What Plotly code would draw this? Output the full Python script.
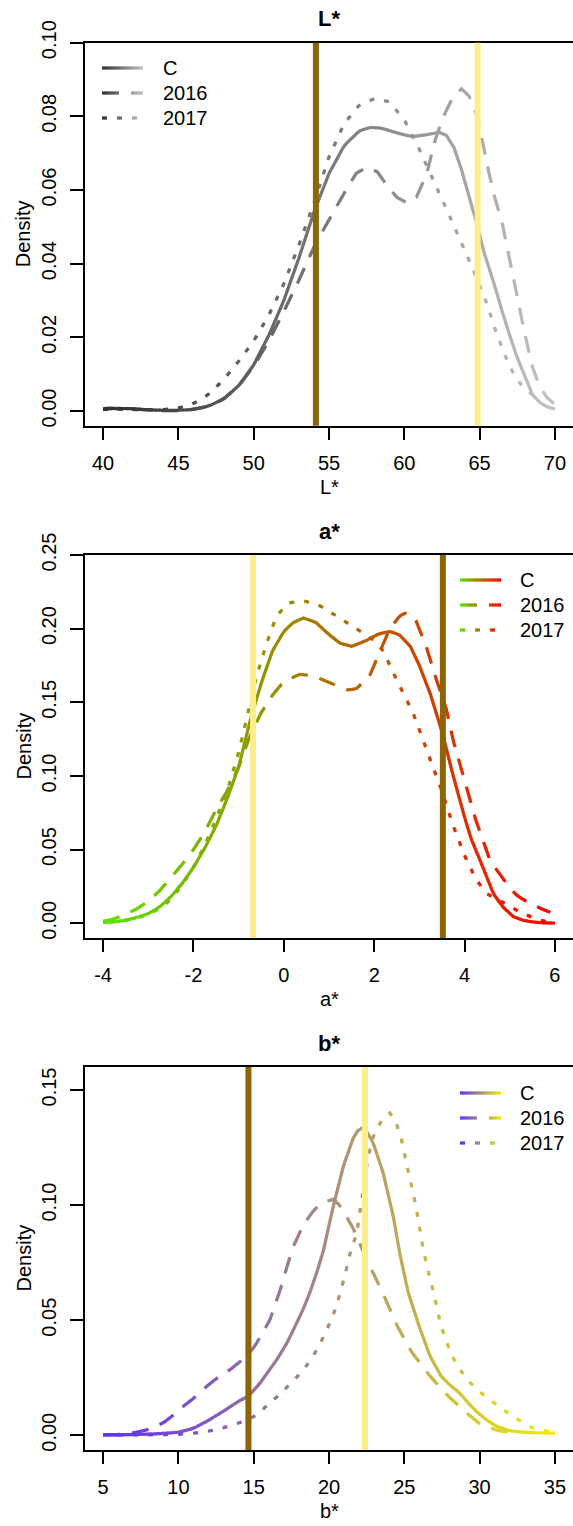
import numpy as np
import plotly.graph_objects as go

W, H = 573, 1526

# ------------------------------------------------------------------
# Data (density curves)
# ------------------------------------------------------------------
SERIES = ["C", "2016", "2017"]

# L* panel
L_C_x = [40, 41, 42, 43, 44, 45, 46, 47, 48, 49, 50, 51, 52, 53, 54, 55, 56,
         57, 57.7, 58.5, 59.5, 60.5, 61.5, 62.3, 62.8, 63.3, 63.8, 64.3, 64.8, 65.3,
         66, 66.5, 67, 67.5, 68, 68.5, 69, 69.5, 70]
L_C_y = [0.0005, 0.0007, 0.0006, 0.0003, 0.0002, 0.0002, 0.0004, 0.0013, 0.0033, 0.0068,
         0.0125, 0.0205, 0.030, 0.0415, 0.054, 0.0645, 0.0720,
         0.0760, 0.0770, 0.0768, 0.0755, 0.0745, 0.0750, 0.0757, 0.0748, 0.0715, 0.0655,
         0.0582, 0.0510, 0.0430, 0.0340, 0.0270, 0.0205, 0.0145, 0.0095, 0.0045, 0.0023,
         0.0011, 0.0005]
L_2016_x = [40, 40.5, 41, 42, 43, 44, 45, 46, 47, 48, 49, 50, 51, 52, 53, 54,
            54.6, 55.5, 56.2, 56.8, 57.5, 58.2, 58.8, 59.5, 60.2, 60.8, 61.5, 62, 62.6,
            63.2, 63.8, 64.3, 64.8, 65.2, 65.6, 66, 66.5, 67, 67.5, 68, 68.5, 69, 69.5, 70]
L_2016_y = [0.0006, 0.0008, 0.0006, 0.0005, 0.0003, 0.0001, 0.0001, 0.0005, 0.0013, 0.0032,
            0.0068, 0.0122, 0.019, 0.027, 0.0355, 0.0445,
            0.049, 0.0555, 0.0605, 0.0645, 0.0662, 0.0650, 0.0615, 0.0580, 0.0565, 0.0580,
            0.0645, 0.0730, 0.0800, 0.0850, 0.0875, 0.0855, 0.0805, 0.0730, 0.0650, 0.0580,
            0.0510, 0.0410, 0.0310, 0.0210, 0.0120, 0.0065, 0.0035, 0.0018]
L_2017_x = [40, 41, 42, 43, 44, 45, 46, 47, 48, 49, 50, 51, 52, 53, 54, 55, 56, 57, 58, 59,
            60, 61, 62, 63, 63.7, 64.4, 65, 65.5, 66, 66.5, 67, 67.5, 68, 68.5, 69]
L_2017_y = [0.0004, 0.0005, 0.0004, 0.0003, 0.0004, 0.0008, 0.002, 0.0045, 0.0085, 0.0135,
            0.019, 0.026, 0.0345, 0.045, 0.0565, 0.069, 0.078, 0.083, 0.0848, 0.084,
            0.079, 0.071, 0.062, 0.053, 0.0465, 0.040, 0.034, 0.029, 0.0225, 0.017, 0.012,
            0.0085, 0.006, 0.0045, 0.003]

# a* panel
a_C_x = [-4, -3.75, -3.5, -3.25, -3, -2.75, -2.5, -2.25, -2, -1.75, -1.5, -1.25, -1, -0.75,
         -0.5, -0.25, 0, 0.2, 0.43, 0.7, 1.0, 1.25, 1.5, 1.8, 2.1, 2.35, 2.55, 2.8, 3.0,
         3.25, 3.5, 3.75, 4.0, 4.15, 4.34, 4.64, 4.85, 5.08, 5.3, 5.52, 5.75, 6.0]
a_C_y = [0.0005, 0.001, 0.002, 0.004, 0.0065, 0.011, 0.018, 0.027, 0.038, 0.051, 0.066,
         0.085, 0.106, 0.137, 0.163, 0.185, 0.198, 0.204, 0.2072, 0.2045, 0.196, 0.190,
         0.188, 0.1915, 0.1965, 0.198, 0.196, 0.188, 0.175, 0.155, 0.130, 0.100, 0.072,
         0.057, 0.043, 0.020, 0.011, 0.0045, 0.002, 0.0008, 0.0003, 0.0001]
a_2016_x = [-4, -3.75, -3.5, -3.25, -3, -2.75, -2.5, -2.25, -2, -1.75, -1.5, -1.25, -1,
            -0.75, -0.5, -0.25, 0, 0.35, 0.65, 1.0, 1.4, 1.6, 1.9, 2.12, 2.34, 2.56, 2.71,
            2.93, 3.15, 3.37, 3.6, 3.75, 4.0, 4.25, 4.56, 4.74, 4.93, 5.15, 5.45, 5.78, 5.9]
a_2016_y = [0.0014, 0.003, 0.0062, 0.0098, 0.015, 0.022, 0.031, 0.040, 0.050, 0.062, 0.077,
            0.090, 0.106, 0.127, 0.143, 0.155, 0.164, 0.169, 0.168, 0.1635, 0.1585, 0.159,
            0.168, 0.184, 0.1995, 0.2085, 0.211, 0.205, 0.188, 0.166, 0.145, 0.124, 0.097,
            0.070, 0.043, 0.035, 0.027, 0.019, 0.0134, 0.0087, 0.0075]
a_2017_x = [-3.85, -3.5, -3.25, -3, -2.75, -2.5, -2.25, -2, -1.75, -1.5, -1.25, -1, -0.8,
            -0.6, -0.38, -0.16, 0.1, 0.43, 0.8, 1.09, 1.39, 1.68, 1.97, 2.2, 2.42, 2.64,
            2.86, 3.08, 3.3, 3.52, 3.75, 4.0, 4.25, 4.5, 4.75, 4.93, 5.2, 5.5, 5.75, 5.95]
a_2017_y = [0.0007, 0.002, 0.0035, 0.006, 0.010, 0.016, 0.026, 0.038, 0.053, 0.071, 0.090,
            0.116, 0.142, 0.168, 0.190, 0.2087, 0.2174, 0.219, 0.2156, 0.210, 0.2042,
            0.1985, 0.1928, 0.1849, 0.1701, 0.1565, 0.1428, 0.1246, 0.106, 0.088, 0.066,
            0.046, 0.030, 0.020, 0.0155, 0.013, 0.008, 0.004, 0.0015, 0.0007]

# b* panel
b_C_x = [5, 6, 7, 8, 9, 10, 11, 12, 13, 14, 14.65, 15.43, 16, 16.55, 17.2, 17.76, 18.3,
         18.73, 19.2, 19.62, 20.28, 20.95, 21.6, 21.9, 22.17, 22.55, 22.94, 23.6, 24.27,
         24.7, 25.26, 25.98, 26.7, 27.43, 28.0, 28.64, 29.25, 29.85, 30.5, 31.06, 32, 33,
         34, 35]
b_C_y = [0.0002, 0.0002, 0.0003, 0.0005, 0.0008, 0.0013, 0.003, 0.0065, 0.0105, 0.0148,
         0.017, 0.0227, 0.028, 0.033, 0.040, 0.0475, 0.055, 0.062, 0.071, 0.080, 0.0994,
         0.1168, 0.1290, 0.1322, 0.1334, 0.1315, 0.1269, 0.1139, 0.095, 0.079, 0.062,
         0.0475, 0.0345, 0.0258, 0.022, 0.0186, 0.014, 0.0099, 0.0065, 0.0041, 0.0019,
         0.0013, 0.001, 0.0009]
b_2016_x = [5, 6, 7, 7.5, 8, 9, 10, 10.33, 11, 11.88, 12.6, 13.43, 14.53, 15.1, 16.07, 16.8,
            17.2, 17.63, 18.3, 18.96, 19.5, 20.28, 20.7, 21.07, 21.6, 22.06, 22.6, 23.56,
            24.53, 25.5, 26.7, 27.9, 29.1, 30.1, 31.3, 32.5]
b_2016_y = [0.0001, 0.0003, 0.0010, 0.0017, 0.0025, 0.0054, 0.0105, 0.0126, 0.016, 0.0213,
            0.025, 0.0285, 0.0343, 0.039, 0.050, 0.064, 0.073, 0.082, 0.0915, 0.0975,
            0.101, 0.1025, 0.100, 0.096, 0.090, 0.083, 0.075, 0.062, 0.0475, 0.036,
            0.0258, 0.0171, 0.0099, 0.0045, 0.0019, 0.0009]
b_2017_x = [6, 8, 10, 11, 12, 12.55, 13.5, 14.2, 14.97, 15.4, 16.07, 16.7, 17.28, 17.9,
            18.49, 19.0, 19.45, 20.0, 20.42, 20.8, 21.15, 21.4, 21.84, 22.17, 22.6, 22.94,
            23.38, 24.04, 24.4, 24.82, 25.15, 25.6, 25.93, 26.26, 26.6, 26.95, 27.43, 28.16,
            29.12, 30.33, 31.54, 32.5, 33.47, 34.44, 35]
b_2017_y = [0.0001, 0.0002, 0.0004, 0.0009, 0.0018, 0.0025, 0.0042, 0.0058, 0.008, 0.0098,
            0.0142, 0.0175, 0.0214, 0.0255, 0.0301, 0.035, 0.0403, 0.048, 0.0548, 0.063,
            0.0722, 0.079, 0.0878, 0.1023, 0.121, 0.1298, 0.1356, 0.140, 0.137, 0.1283,
            0.118, 0.105, 0.0936, 0.0806, 0.071, 0.062, 0.0475, 0.0345, 0.0243, 0.0171,
            0.0113, 0.007, 0.0033, 0.0019, 0.0012]

# reference values (vertical lines): (value, which colour)
L_refs = [(54.13, "dark"), (64.87, "light")]
a_refs = [(3.52, "dark"), (-0.68, "light")]
b_refs = [(14.65, "dark"), (22.39, "light")]

L_ticks_x = [40, 45, 50, 55, 60, 65, 70]
a_ticks_x = [-4, -2, 0, 2, 4, 6]
b_ticks_x = [5, 10, 15, 20, 25, 30, 35]
L_ticks_y = [0, 0.02, 0.04, 0.06, 0.08, 0.10]
a_ticks_y = [0, 0.05, 0.10, 0.15, 0.20, 0.25]
b_ticks_y = [0, 0.05, 0.10, 0.15]

# ------------------------------------------------------------------
# Styling
# ------------------------------------------------------------------
FONT = "Liberation Sans, Arial, Helvetica, sans-serif"
REFCOL = {"dark": "#8B6508", "light": "#FFEC8B"}
PATTERNS = {"C": (None, 0), "2016": (17.0, 12.0), "2017": (5.0, 10.0)}
LW = 3.2
NBINS = 48
PLOT_L, PLOT_R = 85.0, 573.0
PLOT_H = 383.0

panels = [
    dict(title="L*", top=42.7, xr=(38.8, 71.2), yr=(-0.004, 0.10),
         xt=L_ticks_x, yt=L_ticks_y,
         data=[(L_C_x, L_C_y), (L_2016_x, L_2016_y), (L_2017_x, L_2017_y)],
         c0=(48, 48, 48), c1=(195, 195, 195), refs=L_refs,
         leg=dict(x0=102, x1=143, tx=161, y=68)),
    dict(title="a*", top=555.0, xr=(-4.4, 6.4), yr=(-0.01, 0.25),
         xt=a_ticks_x, yt=a_ticks_y,
         data=[(a_C_x, a_C_y), (a_2016_x, a_2016_y), (a_2017_x, a_2017_y)],
         c0=(90, 228, 0), c1=(255, 0, 0), refs=a_refs,
         leg=dict(x0=460, x1=501, tx=518, y=580)),
    dict(title="b*", top=1067.0, xr=(3.8, 36.2), yr=(-0.0064, 0.16),
         xt=b_ticks_x, yt=b_ticks_y,
         data=[(b_C_x, b_C_y), (b_2016_x, b_2016_y), (b_2017_x, b_2017_y)],
         c0=(95, 45, 250), c1=(240, 236, 0), refs=b_refs,
         leg=dict(x0=460, x1=501, tx=518, y=1093)),
]


def lerp_col(c0, c1, t):
    t = min(max(t, 0.0), 1.0)
    return "rgb(%d,%d,%d)" % tuple(round(a + (b - a) * t) for a, b in zip(c0, c1))


def dash_runs(xs, ys, sx, sy, on, off, step=4.0):
    """Split a polyline into dash pieces (pixel-space arc length) and
    sub-pieces for the colour gradient. Returns list of (xarr, yarr)."""
    X = np.asarray(xs, float)
    Y = np.asarray(ys, float)
    px, py = X * sx, Y * sy
    s = np.concatenate([[0.0], np.cumsum(np.hypot(np.diff(px), np.diff(py)))])
    S = s[-1]
    if on is None:
        intervals = [(0.0, S)]
    else:
        intervals = []
        a = 0.0
        while a < S:
            intervals.append((a, min(a + on, S)))
            a += on + off
    out = []
    for a, b in intervals:
        n = max(1, int(np.ceil((b - a) / step)))
        edges = np.linspace(a, b, n + 1)
        for u, v in zip(edges[:-1], edges[1:]):
            v2 = min(v + 0.6, b)  # tiny overlap to hide seams
            inner = [s[i] for i in range(len(s)) if u < s[i] < v2]
            ss = [u] + inner + [v2]
            out.append((np.interp(ss, s, X), np.interp(ss, s, Y)))
    return out


def fmt_tick(v):
    return ("%g" % v).replace("\u2212", "-")


fig = go.Figure()
shapes = []
annotations = []

for k, p in enumerate(panels):
    idx = "" if k == 0 else str(k + 1)
    xa, ya = "x" + idx, "y" + idx
    top = p["top"]
    bot = top + PLOT_H
    x0r, x1r = p["xr"]
    y0r, y1r = p["yr"]
    sx = (PLOT_R - PLOT_L) / (x1r - x0r)
    sy = PLOT_H / (y1r - y0r)
    lo, hi = p["xt"][0], p["xt"][-1]

    for (xs, ys), name in zip(p["data"], SERIES):
        on, off = PATTERNS[name]
        bins = {}
        for xx, yy in dash_runs(xs, ys, sx, sy, on, off):
            t = (0.5 * (xx[0] + xx[-1]) - lo) / (hi - lo)
            bi = int(round(min(max(t, 0), 1) * (NBINS - 1)))
            bx, by = bins.setdefault(bi, ([], []))
            bx.extend(list(xx) + [None])
            by.extend(list(yy) + [None])
        for bi in sorted(bins):
            bx, by = bins[bi]
            fig.add_trace(go.Scatter(
                x=bx, y=by, mode="lines", xaxis=xa, yaxis=ya,
                line=dict(color=lerp_col(p["c0"], p["c1"], bi / (NBINS - 1)), width=LW),
                hoverinfo="skip", showlegend=False))

    # vertical reference lines
    for val, kind in p["refs"]:
        shapes.append(dict(type="line", xref=xa, yref=ya + " domain", x0=val, x1=val,
                           y0=0, y1=1, layer="above",
                           line=dict(color=REFCOL[kind], width=6)))

    dom_y = [1 - bot / H, 1 - top / H]
    fig.layout["xaxis" + idx] = dict(
        domain=[PLOT_L / W, 1.0], anchor=ya, range=list(p["xr"]), automargin=False,
        tickmode="array", tickvals=p["xt"], ticktext=[fmt_tick(v) for v in p["xt"]],
        ticks="outside", ticklen=12.5,
        tickwidth=1.5, tickcolor="black", showline=True, linecolor="black",
        linewidth=1.5, mirror=True, showgrid=False, zeroline=False,
        tickfont=dict(family=FONT, size=20, color="black"), ticklabelstandoff=6)
    fig.layout["yaxis" + idx] = dict(
        domain=dom_y, anchor=xa, range=list(p["yr"]), automargin=False,
        tickmode="array", tickvals=p["yt"], ticktext=["%.2f" % v for v in p["yt"]],
        ticks="outside",
        ticklen=13, tickwidth=1.5, tickcolor="black", showline=True,
        linecolor="black", linewidth=1.5, showgrid=False, zeroline=False,
        tickangle=-90, tickfont=dict(family=FONT, size=20, color="black"),
        ticklabelstandoff=6)

    # titles and axis labels
    cx = (PLOT_L + PLOT_R) / 2
    annotations.append(dict(text="<b>%s</b>" % p["title"], x=cx / W, y=1 - (top - 24) / H,
                            xref="paper", yref="paper", showarrow=False,
                            xanchor="center", yanchor="middle",
                            font=dict(family=FONT, size=22, color="black")))
    annotations.append(dict(text=p["title"], x=cx / W, y=1 - (bot + 61) / H,
                            xref="paper", yref="paper", showarrow=False,
                            xanchor="center", yanchor="middle",
                            font=dict(family=FONT, size=20, color="black")))
    annotations.append(dict(text="Density", x=23 / W, y=1 - (top + bot) / 2 / H,
                            xref="paper", yref="paper", showarrow=False, textangle=-90,
                            xanchor="center", yanchor="middle",
                            font=dict(family=FONT, size=20, color="black")))

    # legend (gradient samples)
    lg = p["leg"]
    for r, name in enumerate(SERIES):
        yy = lg["y"] + 25 * r
        on, off = PATTERNS[name]
        L = lg["x1"] - lg["x0"]
        for xs_, _ in dash_runs([0.0, L], [0.0, 0.0], 1.0, 1.0, on, off, step=3.0):
            xa0, xa1 = xs_[0], xs_[-1]
            t = 0.5 * (xa0 + xa1) / L
            shapes.append(dict(type="line", xref="paper", yref="paper",
                               x0=(lg["x0"] + xa0) / W, x1=(lg["x0"] + xa1) / W,
                               y0=1 - yy / H, y1=1 - yy / H, layer="above",
                               line=dict(color=lerp_col(p["c0"], p["c1"], t), width=LW)))
        annotations.append(dict(text=name, x=lg["tx"] / W, y=1 - yy / H,
                                xref="paper", yref="paper", showarrow=False,
                                xanchor="left", yanchor="middle",
                                font=dict(family=FONT, size=20, color="black")))

fig.update_layout(width=W, height=H, margin=dict(l=0, r=0, t=0, b=0, autoexpand=False),
                  paper_bgcolor="white", plot_bgcolor="white",
                  shapes=shapes, annotations=annotations, showlegend=False,
                  font=dict(family=FONT, size=20, color="black"))

fig.write_html("out.html")
